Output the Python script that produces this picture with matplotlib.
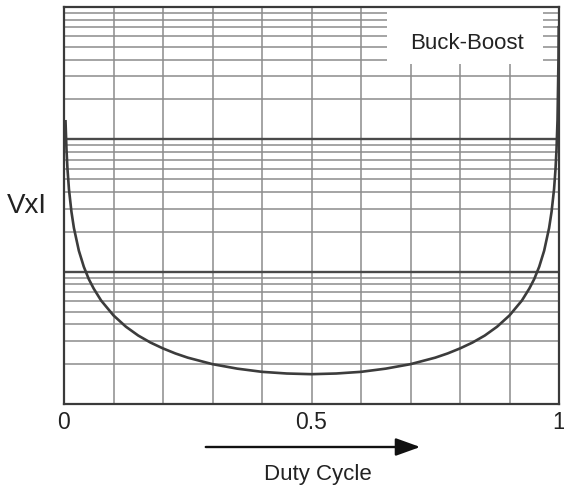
import matplotlib.pyplot as plt
from matplotlib.patches import Rectangle, FancyArrowPatch
import numpy as np

plt.rcParams["font.family"] = ["Liberation Sans", "DejaVu Sans"]

# Values (y axis is log, 3 decades)
duty = [0.003, 0.005, 0.007, 0.01, 0.015, 0.02, 0.03, 0.04, 0.05, 0.06, 0.075,
        0.1, 0.125, 0.15, 0.175, 0.2, 0.225, 0.25, 0.3, 0.35, 0.4, 0.45, 0.5,
        0.55, 0.6, 0.65, 0.7, 0.75, 0.775, 0.8, 0.825, 0.85, 0.875, 0.9, 0.925,
        0.94, 0.95, 0.96, 0.97, 0.98, 0.985, 0.99, 0.993, 0.995, 0.997, 0.999, 0.9994]
vxi = [140, 84, 60, 42, 28.4, 21.4, 14.4, 10.9, 8.8, 7.45, 6.05,
       4.67, 3.84, 3.29, 2.91, 2.63, 2.41, 2.24, 2.0, 1.85, 1.75, 1.7, 1.68,
       1.7, 1.75, 1.85, 2.0, 2.24, 2.41, 2.63, 2.91, 3.29, 3.84, 4.67, 6.05,
       7.45, 8.8, 10.9, 14.4, 21.4, 28.4, 42, 60, 84, 140, 420, 720]

x_labels = {0.0: "0", 0.5: "0.5", 1.0: "1"}

fig = plt.figure(figsize=(5.64, 4.90), dpi=100)
ax = fig.add_axes([64 / 564, 1 - 404 / 490, 495 / 564, 397 / 490])

ax.plot(duty, vxi, color="#3c3c3c", lw=1.9, zorder=3, solid_capstyle="butt")

ax.set_yscale("log")
ax.set_xlim(0, 1)
ax.set_ylim(1, 1000)

# grid: every 0.1 on x, log minors on y, darker decade lines
xt = np.round(np.arange(0, 1.01, 0.1), 1)
ax.set_xticks(xt)
ax.set_xticklabels([x_labels.get(v, "") for v in xt])
ax.set_yticks([10, 100])
ax.set_yticks([k * d for d in (1, 10, 100) for k in range(2, 10)], minor=True)
ax.set_yticklabels([])
ax.set_yticklabels([], minor=True)
ax.tick_params(axis="both", which="both", length=0)
ax.tick_params(axis="x", labelsize=16.5, pad=5, colors="#222222")
ax.set_axisbelow(True)
ax.xaxis.grid(True, which="major", color="#8c8c8c", lw=1.1)
ax.yaxis.grid(True, which="major", color="#4a4a4a", lw=1.7)
ax.yaxis.grid(True, which="minor", color="#8c8c8c", lw=1.1)

for s in ax.spines.values():
    s.set_color("#3a3a3a")
    s.set_linewidth(1.6)

# label box
ax.add_patch(Rectangle((0.6525, 0.856), 0.3155, 0.141, transform=ax.transAxes,
                       facecolor="white", edgecolor="none", zorder=1.5))
ax.text(0.814, 0.907, "Buck-Boost", transform=ax.transAxes, fontsize=16,
        ha="center", va="center", color="#222222", zorder=4)

fig.text(27 / 564, 1 - 206 / 490, "VxI", fontsize=20, ha="center", va="center",
         color="#222222")
fig.text(318 / 564, 1 - 474 / 490, "Duty Cycle", fontsize=16, ha="center",
         va="center", color="#222222")
fig.patches.append(FancyArrowPatch(
    (203 / 564, 1 - 447 / 490), (423 / 564, 1 - 447 / 490),
    transform=fig.transFigure, arrowstyle="-|>,head_length=15,head_width=5.4",
    color="#111111", lw=1.7, mutation_scale=1))

fig.savefig("out.png", dpi=100)
